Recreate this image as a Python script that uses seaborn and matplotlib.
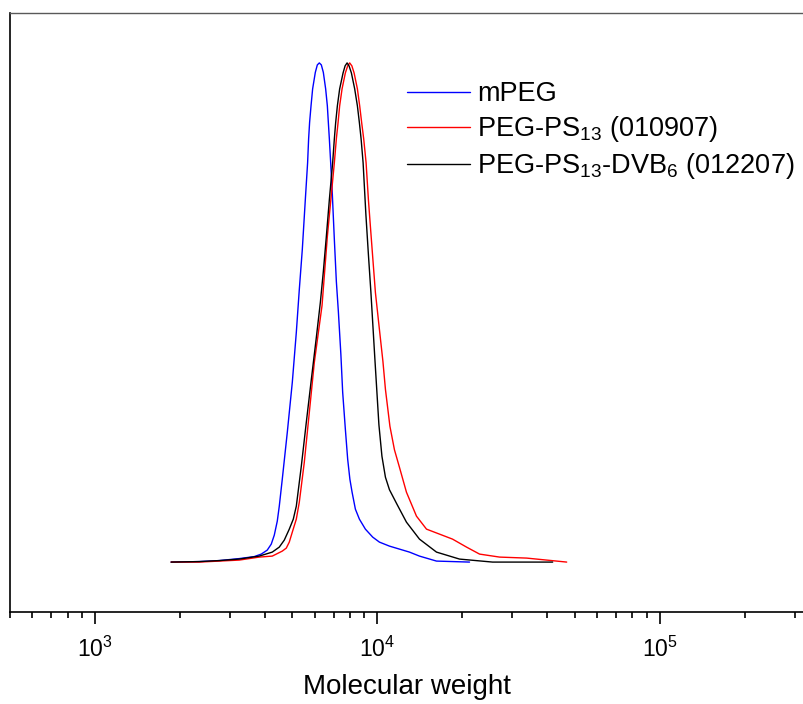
import numpy as np
import pandas as pd
import matplotlib
matplotlib.use("Agg")
import matplotlib.pyplot as plt
import matplotlib.ticker as mticker
import seaborn as sns

# ---- data: log10(molecular weight) and normalised signal ----
mpeg_logM = [3.2695, 3.3688, 3.4397, 3.5106, 3.5638, 3.5887, 3.6099, 3.6241, 3.6348, 3.6454,
             3.6525, 3.6631, 3.6809, 3.6986, 3.7128, 3.7234, 3.7340, 3.7447, 3.7528, 3.7564,
             3.7599, 3.7649, 3.7706, 3.7801, 3.7872, 3.7943, 3.8014, 3.8085, 3.8167, 3.8227,
             3.8262, 3.8298, 3.8344, 3.8404, 3.8475, 3.8546, 3.8617, 3.8706, 3.8770, 3.8865,
             3.8947, 3.9025, 3.9103, 3.9220, 3.9362, 3.9574, 3.9833, 4.0071, 4.0426, 4.0780,
             4.1135, 4.1489, 4.2092, 4.3262]
mpeg_v = [0.0, 0.001, 0.003, 0.007, 0.011, 0.016, 0.024, 0.036, 0.054, 0.082,
          0.112, 0.166, 0.26, 0.36, 0.46, 0.546, 0.626, 0.726, 0.80, 0.848,
          0.881, 0.914, 0.948, 0.981, 0.996, 1.0, 0.996, 0.981, 0.948, 0.914,
          0.881, 0.848, 0.801, 0.736, 0.646, 0.562, 0.502, 0.416, 0.34, 0.266,
          0.206, 0.166, 0.14, 0.106, 0.086, 0.066, 0.05, 0.04, 0.032, 0.026,
          0.02, 0.012, 0.002, 0.0]

ps_logM = [3.2695, 3.3688, 3.4397, 3.5106, 3.5816, 3.6277, 3.6631, 3.6773, 3.6879, 3.6986,
           3.7128, 3.7234, 3.7411, 3.7589, 3.7766, 3.8039, 3.8227, 3.8475, 3.8546, 3.8606,
           3.8663, 3.8748, 3.8865, 3.8947, 3.9018, 3.9096, 3.9174, 3.9291, 3.9372, 3.9443,
           3.9514, 3.9599, 3.9681, 3.9752, 3.9840, 3.9929, 4.0071, 4.0195, 4.0284, 4.0443,
           4.0603, 4.0780, 4.1028, 4.1383, 4.1738, 4.2199, 4.2660, 4.3156, 4.3617, 4.4326,
           4.5284, 4.5993, 4.6702]
ps_v = [0.0, 0.0, 0.002, 0.004, 0.01, 0.012, 0.022, 0.028, 0.04, 0.06,
        0.086, 0.12, 0.2, 0.30, 0.40, 0.514, 0.652, 0.80, 0.848, 0.88,
        0.914, 0.948, 0.98, 0.994, 1.0, 0.994, 0.98, 0.948, 0.914, 0.88,
        0.848, 0.80, 0.726, 0.672, 0.606, 0.54, 0.466, 0.402, 0.346, 0.272,
        0.225, 0.19, 0.14, 0.092, 0.066, 0.056, 0.046, 0.03, 0.016, 0.01,
        0.008, 0.004, 0.0]

dvb_logM = [3.2695, 3.3688, 3.4397, 3.5106, 3.5816, 3.6277, 3.6525, 3.6702, 3.6879, 3.7021,
            3.7128, 3.7305, 3.7482, 3.7660, 3.7837, 3.7979, 3.8085, 3.8191, 3.8298, 3.8415,
            3.8475, 3.8521, 3.8582, 3.8663, 3.8784, 3.8855, 3.8926, 3.8996, 3.9078, 3.9195,
            3.9291, 3.9362, 3.9422, 3.9493, 3.9592, 3.9681, 3.9770, 3.9911, 4.0053, 4.0160,
            4.0284, 4.0426, 4.0691, 4.1028, 4.1489, 4.2092, 4.2908, 4.4078, 4.6206]
dvb_v = [0.0, 0.001, 0.003, 0.006, 0.012, 0.02, 0.03, 0.044, 0.066, 0.086,
         0.112, 0.192, 0.28, 0.366, 0.45, 0.52, 0.582, 0.652, 0.726, 0.80,
         0.848, 0.88, 0.914, 0.948, 0.98, 0.994, 1.0, 0.994, 0.98, 0.948,
         0.914, 0.88, 0.848, 0.80, 0.696, 0.616, 0.54, 0.406, 0.275, 0.212,
         0.17, 0.145, 0.116, 0.08, 0.046, 0.02, 0.006, 0.0, 0.0]

labels = ["mPEG",
          r"PEG-PS$_{\mathregular{13}}$ (010907)",
          r"PEG-PS$_{\mathregular{13}}$-DVB$_{\mathregular{6}}$ (012207)"]
colors = ["#0000ff", "#ff0000", "#000000"]
major_ticks = [1e3, 1e4, 1e5]
tick_labels = [r"10$^{\mathregular{3}}$", r"10$^{\mathregular{4}}$", r"10$^{\mathregular{5}}$"]

df = pd.concat([
    pd.DataFrame({"M": np.power(10.0, mpeg_logM), "v": mpeg_v, "sample": labels[0]}),
    pd.DataFrame({"M": np.power(10.0, ps_logM), "v": ps_v, "sample": labels[1]}),
    pd.DataFrame({"M": np.power(10.0, dvb_logM), "v": dvb_v, "sample": labels[2]}),
], ignore_index=True)

sns.set_style("white")
plt.rcParams["font.family"] = ["Liberation Sans", "DejaVu Sans"]
plt.rcParams["mathtext.fontset"] = "custom"
plt.rcParams["mathtext.rm"] = "Liberation Sans"
plt.rcParams["mathtext.it"] = "Liberation Sans:italic"
plt.rcParams["mathtext.bf"] = "Liberation Sans:bold"
plt.rcParams["text.color"] = "black"
plt.rcParams["axes.labelcolor"] = "black"
plt.rcParams["xtick.color"] = "black"
plt.rcParams["xtick.labelsize"] = 16.5

fig = plt.figure(figsize=(8.04, 7.04), dpi=100)
ax = fig.add_axes([10 / 804, 1 - 612 / 704, 794 / 804, 599 / 704])

sns.lineplot(data=df, x="M", y="v", hue="sample", palette=dict(zip(labels, colors)),
             sort=False, estimator=None, linewidth=1.0, ax=ax)

ax.set_xscale("log")
ax.set_xlim(500, 3.24e5)
ax.set_ylim(-0.1, 1.1)
ax.set_yticks([])
ax.set_ylabel("")
ax.set_xlabel("Molecular weight", fontsize=20, labelpad=9)

ax.set_xticks(major_ticks)
ax.set_xticklabels(tick_labels, fontsize=16.5)
ax.xaxis.set_minor_locator(mticker.LogLocator(base=10, subs=np.arange(2, 10)))
ax.xaxis.set_minor_formatter(mticker.NullFormatter())
ax.tick_params(axis="x", which="major", direction="out", length=8.6, width=1.2,
               pad=9, bottom=True, color="black")
ax.tick_params(axis="x", which="minor", direction="out", length=4.3, width=1.2,
               bottom=True, color="black")

for s in ["left", "bottom"]:
    ax.spines[s].set_color("black")
    ax.spines[s].set_linewidth(1.2)
ax.spines["top"].set_color("0.35")
ax.spines["top"].set_linewidth(1.0)
ax.spines["right"].set_visible(False)

handles, lbls = ax.get_legend_handles_labels()
ax.legend(handles, lbls, loc="upper left", bbox_to_anchor=(0.5, 0.8865), frameon=False,
          fontsize=19.5, handlelength=2.33, handletextpad=0.26, labelspacing=0.26,
          borderpad=0, borderaxespad=0)

fig.savefig("out.png", dpi=100)
